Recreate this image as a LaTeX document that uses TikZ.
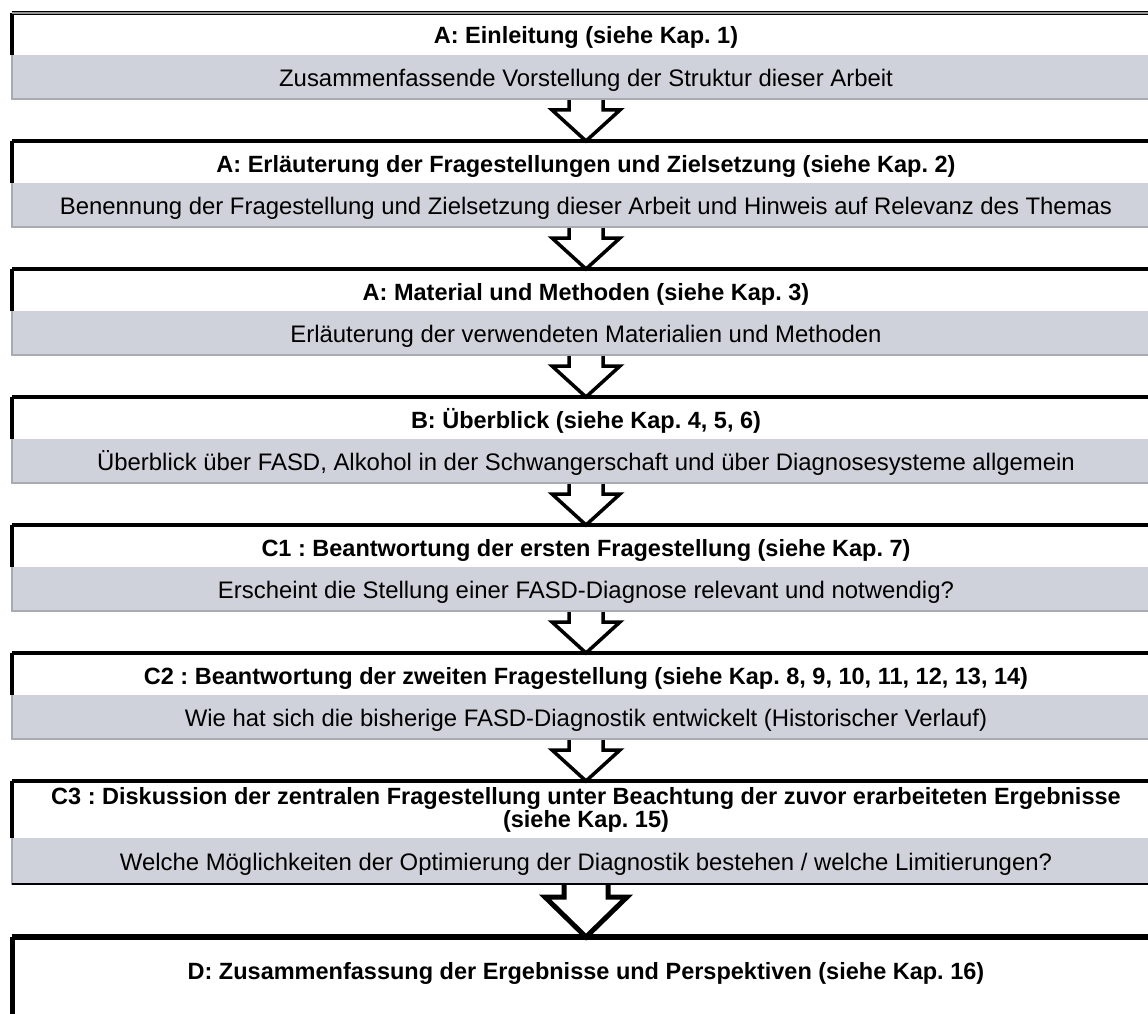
\documentclass[tikz,border=0pt]{standalone}
\usepackage{fontspec}
\setmainfont{Liberation Sans}
\usetikzlibrary{calc}
\frenchspacing
\definecolor{bandgray}{RGB}{207,210,218}
\definecolor{bandedge}{RGB}{168,171,178}
\definecolor{midgray}{RGB}{150,150,150}
\tikzset{
  hdr/.style={font=\fontsize{23.5}{23}\selectfont\bfseries, minimum width=1148pt, minimum height=42pt,
    inner sep=0pt, outer sep=0pt, fill=white, text height=22pt, text depth=2pt},
  hdrtwo/.style={font=\fontsize{23.5}{23}\selectfont\bfseries, minimum width=1148pt, minimum height=57pt,
    inner sep=0pt, outer sep=0pt, fill=white, align=center},
  band/.style={font=\fontsize{23.9}{23}\selectfont, minimum width=1148pt, minimum height=45pt,
    inner sep=0pt, outer sep=0pt, fill=bandgray, text height=20pt, text depth=2pt},
  topline/.style={line width=4.5pt},
  leftline/.style={line width=4pt},
  bandside/.style={draw=bandedge, line width=2pt},
  flow/.style={draw=black, fill=white, line width=3.5pt, line join=miter},
  flowbig/.style={draw=black, fill=white, line width=5pt, line join=miter},
}
\begin{document}
\begin{tikzpicture}[x=1pt,y=-1pt]
\useasboundingbox (0,0) rectangle (1148,1014);
\clip (0,0) rectangle (1148,1014);
\fill[white] (0,0) rectangle (1148,1014);

% chapter boxes: bold heading on white, summary on a grey band
\node[hdr]  (h1) at (586,34)    {A: Einleitung (siehe Kap. 1)};
\node[band] (b1) at (586,77.5)  {Zusammenfassende Vorstellung der Struktur dieser Arbeit};

\node[hdr]  (h2) at (586,162)   {A: Erläuterung der Fragestellungen und Zielsetzung (siehe Kap. 2)};
\node[band] (b2) at (586,205.5) {Benennung der Fragestellung und Zielsetzung dieser Arbeit und Hinweis auf Relevanz des Themas};

\node[hdr]  (h3) at (586,290)   {A: Material und Methoden (siehe Kap. 3)};
\node[band] (b3) at (586,333.5) {Erläuterung der verwendeten Materialien und Methoden};

\node[hdr]  (h4) at (586,418)   {B: Überblick (siehe Kap. 4, 5, 6)};
\node[band] (b4) at (586,461.5) {Überblick über FASD, Alkohol in der Schwangerschaft und über Diagnosesysteme allgemein};

\node[hdr]  (h5) at (586,546)   {C1 : Beantwortung der ersten Fragestellung (siehe Kap. 7)};
\node[band] (b5) at (586,589.5) {Erscheint die Stellung einer FASD-Diagnose relevant und notwendig?};

\node[hdr]  (h6) at (586,674)   {C2 : Beantwortung der zweiten Fragestellung (siehe Kap. 8, 9, 10, 11, 12, 13, 14)};
\node[band] (b6) at (586,717.5) {Wie hat sich die bisherige FASD-Diagnostik entwickelt (Historischer Verlauf)};

\node[hdrtwo] (h7) at (586,809.5) {C3 : Diskussion der zentralen Fragestellung unter Beachtung der zuvor erarbeiteten Ergebnisse\\(siehe Kap. 15)};
\node[band, minimum height=47pt] (b7) at (586,861.5) {Welche Möglichkeiten der Optimierung der Diagnostik bestehen / welche Limitierungen?};

\node[hdr, minimum height=64pt] (h8) at (586,969) {D: Zusammenfassung der Ergebnisse und Perspektiven (siehe Kap. 16)};

% hollow block arrows between the boxes
\foreach \a/\b in {1/2,2/3,3/4,4/5,5/6,6/7}{
  \draw[flow] ($(b\a.south)+(-17,0)$) -- ++(0,10) -- ++(-17,0) -- (h\b.north)
    -- ($(b\a.south)+(34,10)$) -- ++(-17,0) -- ++(0,-10);
}
\draw[flowbig] ($(b7.south)+(-22,0)$) -- ++(0,12) -- ++(-19,0) -- (h8.north)
  -- ($(b7.south)+(41,12)$) -- ++(-19,0) -- ++(0,-12);

% frame lines of the boxes
\foreach \i in {1,...,7}{
  \draw[topline] (h\i.north west) -- (h\i.north east);
  \draw[leftline] (h\i.north west) -- (h\i.south west);
  \draw[bandside] (b\i.north west) -- (b\i.south west);
  \draw[bandside] ([yshift=1pt]b\i.south west) -- ([yshift=1pt]b\i.south east);
}
\draw[midgray, line width=1.2pt] (h1.north west) -- (h1.north east);
\draw[black, line width=2pt] ([yshift=1pt]b7.south west) -- ([yshift=1pt]b7.south east);
\draw[line width=6.5pt] (h8.north west) -- (h8.north east);
\draw[line width=5pt] (h8.north west) -- ([yshift=-40pt]h8.south west);
\end{tikzpicture}
\end{document}
